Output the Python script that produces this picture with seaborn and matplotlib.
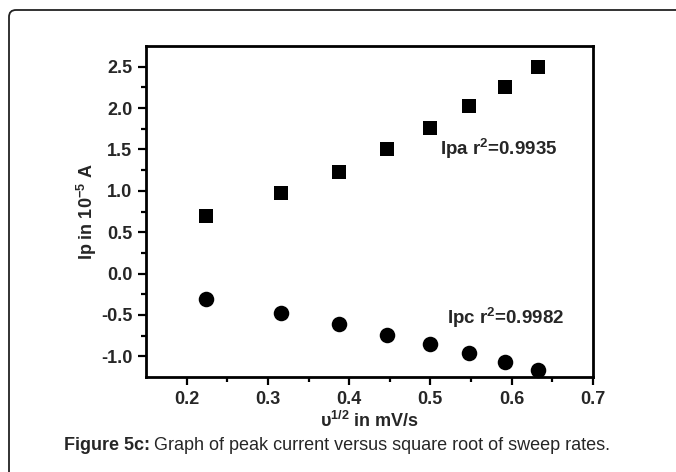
import matplotlib
matplotlib.use("Agg")
import matplotlib.pyplot as plt
from matplotlib.patches import FancyBboxPatch
import seaborn as sns
import pandas as pd

# data
sqrt_rate = [0.2236, 0.3162, 0.3873, 0.4472, 0.5000, 0.5477, 0.5916, 0.6325]
ipa = [0.69, 0.97, 1.23, 1.51, 1.76, 2.02, 2.26, 2.50]
ipc = [-0.31, -0.48, -0.61, -0.74, -0.85, -0.96, -1.07, -1.17]
x_ticks = [0.2, 0.3, 0.4, 0.5, 0.6, 0.7]
y_ticks = [-1.0, -0.5, 0.0, 0.5, 1.0, 1.5, 2.0, 2.5]

sns.set_theme(style="ticks")
plt.rcParams["font.family"] = ["Liberation Sans", "DejaVu Sans"]
plt.rcParams["mathtext.fontset"] = "custom"
plt.rcParams["mathtext.rm"] = "Liberation Sans"
plt.rcParams["mathtext.bf"] = "Liberation Sans:bold"
plt.rcParams["mathtext.it"] = "Liberation Sans:italic"

fig = plt.figure(figsize=(6.76, 4.72), dpi=100)
ax = fig.add_axes([0.216, 0.2013, 0.661, 0.7012])

df_a = pd.DataFrame({"x": sqrt_rate, "y": ipa})
df_c = pd.DataFrame({"x": sqrt_rate, "y": ipc})
sns.scatterplot(data=df_a, x="x", y="y", marker="s", s=105, color="black",
                edgecolor="black", linewidth=0, ax=ax, zorder=3, clip_on=False)
sns.scatterplot(data=df_c, x="x", y="y", marker="o", s=125, color="black",
                edgecolor="black", linewidth=0, ax=ax, zorder=3, clip_on=False)

ax.set_xlim(0.15, 0.7)
ax.set_ylim(-1.25, 2.75)
ax.set_xticks(x_ticks)
ax.set_yticks(y_ticks)
ax.set_xticks([0.25, 0.35, 0.45, 0.55, 0.65], minor=True)
ax.set_yticks([-0.75, -0.25, 0.25, 0.75, 1.25, 1.75, 2.25], minor=True)
ax.set_xticklabels([f"{v:.1f}" for v in x_ticks], fontweight="bold", fontsize=13)
ax.set_yticklabels([f"{v:.1f}" for v in y_ticks], fontweight="bold", fontsize=13)
ax.tick_params(which="major", direction="out", length=6, width=1.6, pad=4, color="black")
ax.tick_params(which="minor", direction="out", length=3.5, width=1.6, color="black")
ax.tick_params(top=False, right=False)
for sp in ax.spines.values():
    sp.set_linewidth(2.0)
    sp.set_color("black")
    sp.set_visible(True)

ax.set_xlabel(r"υ$^{\mathbf{1/2}}$ in mV/s", fontweight="bold", fontsize=13, labelpad=2)
ax.set_ylabel(r"Ip in 10$^{\mathbf{-5}}$ A", fontweight="bold", fontsize=13, labelpad=1)

ax.text(0.512, 1.50, r"Ipa r$^{\mathbf{2}}$=0.9935", fontweight="bold", fontsize=13.5,
        va="center", ha="left")
ax.text(0.520, -0.54, r"Ipc r$^{\mathbf{2}}$=0.9982", fontweight="bold", fontsize=13.5,
        va="center", ha="left")

cap_y = 1 - 446 / 472
t1 = fig.text(64 / 676, cap_y, "Figure 5c:", fontweight="bold", fontsize=13,
              ha="left", va="center")
fig.canvas.draw()
bb = t1.get_window_extent()
fig.text((bb.x1 + 4) / 676, cap_y, "Graph of peak current versus square root of sweep rates.",
         fontsize=13, ha="left", va="center")

border = FancyBboxPatch((0.09, -1.0), 10.0, 5.62, boxstyle="round,pad=0,rounding_size=0.07",
                        transform=fig.dpi_scale_trans, facecolor="none", edgecolor="#222222",
                        linewidth=1.3, zorder=-1)
fig.patches.append(border)

fig.savefig("out.png", dpi=100)
